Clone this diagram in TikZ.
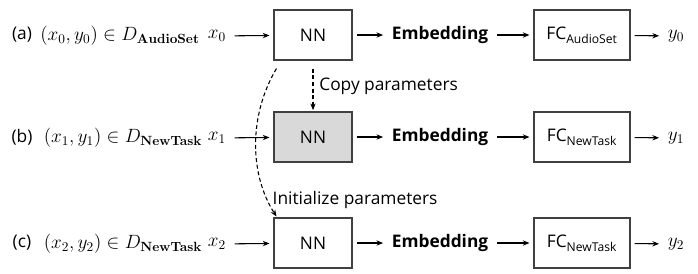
\documentclass[tikz,border=0pt]{standalone}
\usepackage[no-math]{fontspec}
\setmainfont{Open Sans}
\usetikzlibrary{positioning}
\usetikzlibrary{arrows.meta}
\usetikzlibrary{calc}

\begin{document}
\begin{tikzpicture}[
        x=0.75pt, y=-0.75pt,
        every node/.style={font=\fontsize{13}{16}\selectfont},
        mathlab/.style={font=\fontsize{14.4}{17}\selectfont},
        netbox/.style={draw=black!75, line width=0.8pt, minimum height=37.5pt},
        flow/.style={line width=0.8pt, -{Stealth[length=5pt,width=4pt]},
            shorten <=3pt, shorten >=3pt},
        dashflow/.style={line width=0.8pt, -{Stealth[length=5pt,width=4pt]},
            dash pattern=on 3pt off 2pt}
    ]

        % Rahmen
        \useasboundingbox (0,0) rectangle (698,273);

        % Zeile (a)
        \node (labA) at (22,35) {(a)};
        \node[mathlab] (dataA) at (120,36) {$(x_0,y_0)\in D_{\mathbf{AudioSet}}$};
        \node[mathlab] (inA) at (217,36) {$x_0$};
        \node[netbox, minimum width=58.5pt] (nnA) at (313,35) {NN};
        \node (embA) at (440,35) {\bfseries Embedding};
        \node[netbox, minimum width=72pt] (fcA) at (582,35) {FC\textsubscript{AudioSet}};
        \node[mathlab] (outA) at (676,36) {$y_0$};

        % Zeile (b)
        \node (labB) at (22,137) {(b)};
        \node[mathlab] (dataB) at (123,138) {$(x_1,y_1)\in D_{\mathbf{NewTask}}$};
        \node[mathlab] (inB) at (217,138) {$x_1$};
        \node[netbox, fill=black!15, minimum width=58.5pt] (nnB) at (313,137) {NN};
        \node (embB) at (440,137) {\bfseries Embedding};
        \node[netbox, minimum width=72pt] (fcB) at (582,137) {FC\textsubscript{NewTask}};
        \node[mathlab] (outB) at (676,138) {$y_1$};

        % Zeile (c)
        \node (labC) at (22,243) {(c)};
        \node[mathlab] (dataC) at (123,244) {$(x_2,y_2)\in D_{\mathbf{NewTask}}$};
        \node[mathlab] (inC) at (217,244) {$x_2$};
        \node[netbox, minimum width=58.5pt] (nnC) at (313,243) {NN};
        \node (embC) at (440,243) {\bfseries Embedding};
        \node[netbox, minimum width=72pt] (fcC) at (582,243) {FC\textsubscript{NewTask}};
        \node[mathlab] (outC) at (676,244) {$y_2$};

        % Pfeile
        \draw[flow] (inA) -- (nnA);
        \draw[flow] (nnA) -- (embA);
        \draw[flow] (embA) -- (fcA);
        \draw[flow] (fcA) -- (outA);

        \draw[flow] (inB) -- (nnB);
        \draw[flow] (nnB) -- (embB);
        \draw[flow] (embB) -- (fcB);
        \draw[flow] (fcB) -- (outB);

        \draw[flow] (inC) -- (nnC);
        \draw[flow] (nnC) -- (embC);
        \draw[flow] (embC) -- (fcC);
        \draw[flow] (fcC) -- (outC);

        % Parameter uebernehmen
        \draw[dashflow, shorten <=6pt, shorten >=1pt] (nnA) -- (nnB)
            node[midway, right=1pt] (copyLab) {Copy parameters};

        % Parameter initialisieren
        \coordinate (initStart) at ([shift={(3,8)}]nnA.south west);
        \coordinate (initEnd) at ([shift={(3,-1)}]nnC.north west);
        \draw[dashflow] (initStart) .. controls +(-28,47) and +(-27,-42) .. (initEnd);
        \node[anchor=west] (initLab) at (268,200) {Initialize parameters};

    \end{tikzpicture}
\end{document}
